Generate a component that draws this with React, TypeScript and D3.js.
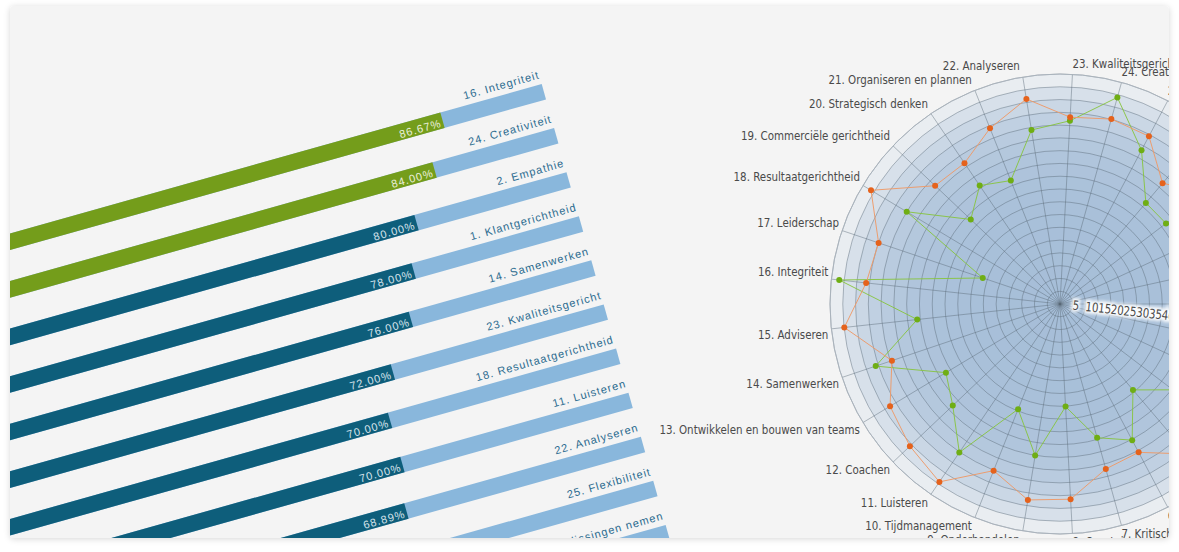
import React from 'react';
import * as d3 from 'd3';

// ---------- Bar chart data ----------
const barLabels = [
  '16. Integriteit',
  '24. Creativiteit',
  '2. Empathie',
  '1. Klantgerichtheid',
  '14. Samenwerken',
  '23. Kwaliteitsgericht',
  '18. Resultaatgerichtheid',
  '11. Luisteren',
  '22. Analyseren',
  '25. Flexibiliteit',
  '3. Beslissingen nemen',
];
const barValues = [86.67, 84.0, 80.0, 78.0, 76.0, 72.0, 70.0, 70.0, 68.89, 66.67, 64.44];
const barHighlightFrom = 82; // values at or above are shown green

// ---------- Radar data ----------
const axisNames = [
  '1. Klantgerichtheid',
  '2. Empathie',
  '3. Beslissingen nemen',
  '4. Overtuigingskracht',
  '5. Stressbestendigheid',
  '6. Initiatief',
  '7. Kritisch denken',
  '8. Overtuigen',
  '9. Onderhandelen',
  '10. Tijdmanagement',
  '11. Luisteren',
  '12. Coachen',
  '13. Ontwikkelen en bouwen van teams',
  '14. Samenwerken',
  '15. Adviseren',
  '16. Integriteit',
  '17. Leiderschap',
  '18. Resultaatgerichtheid',
  '19. Commerciële gerichtheid',
  '20. Strategisch denken',
  '21. Organiseren en plannen',
  '22. Analyseren',
  '23. Kwaliteitsgericht',
  '24. Creativiteit',
  '25. Flexibiliteit',
  '26. Zelfstandigheid',
  '27. Discipline',
  '28. Inlevingsvermogen',
  '29. Ondernemerschap',
];
const seriesOrange = [
  74, 78, 71, 75, 77, 65.7, 67, 76.5, 77.7, 70.2, 84.1, 80.9, 77.6, 69.4, 84.9,
  76.3, 74.9, 86.3, 67.3, 66.6, 74, 81.3, 73.2, 75.1, 74.3, 62, 72, 70, 76,
];
const seriesGreen = [
  62, 55, 65, 55.5, 44.1, 60.3, 54.3, 40.2, 60.1, 44.3, 70.2, 57.8, 52.1, 76.1, 56.2,
  86.9, 31.9, 70, 48.1, 56, 52, 69, 71.8, 83.9, 68.1, 51.9, 52.1, 60, 58,
];
const radarTicks = [5, 10, 15, 20, 25, 30, 35, 40, 45, 50, 55, 60, 65, 70, 75, 80, 85, 90];

export default function App() {
  const W = 1179;
  const H = 552;
  const card = { x: 10, y: 6, w: 1159, h: 532 };

  // bar chart (rotated horizontal bars)
  const barAngle = -15.7;
  const barOrigin = [541.7, 84];
  const barFull = 790;
  const barStep = 45.8;
  const barThick = 16;
  const xBar = d3.scaleLinear().domain([0, 100]).range([-barFull, 0]);
  const yBar = d3.scaleLinear().domain([0, 1]).range([0, barStep]);

  // radar
  const cx = 1060;
  const cy = 304;
  const R = 230;
  const n = axisNames.length;
  const rScale = d3.scaleLinear().domain([0, 90]).range([0, R]);
  const ang = (i: number) => (i * 2 * Math.PI) / n;
  const bandColor = d3.interpolateRgb('#e9edf1', '#a6bed8');
  const radial = d3
    .lineRadial<number>()
    .angle((_d, i) => ang(i) + Math.PI / 2)
    .radius((d) => rScale(d))
    .curve(d3.curveLinearClosed);
  const halfStepDeg = 180 / n;
  const labelFont = '"DejaVu Sans Condensed", "DejaVu Sans", sans-serif';
  const barFont = '"Liberation Sans", Arial, sans-serif';
  const squeeze = 0.88;

  const ringsDesc = [...radarTicks].reverse();

  return (
    <svg
      width={W}
      height={H}
      viewBox={`0 0 ${W} ${H}`}
      style={{ position: 'absolute', left: 0, top: 0 }}
    >
      <defs>
        <filter id="cardShadow" x="-5%" y="-5%" width="110%" height="110%">
          <feDropShadow dx="0" dy="1" stdDeviation="3" floodColor="#000" floodOpacity="0.16" />
        </filter>
        <clipPath id="cardClip">
          <rect x={card.x} y={card.y} width={card.w} height={card.h} rx={4} />
        </clipPath>
        <filter id="glow" x="-20%" y="-50%" width="140%" height="200%">
          <feGaussianBlur stdDeviation="1.6" />
        </filter>
      </defs>
      <rect x={0} y={0} width={W} height={H} fill="#ffffff" />
      <rect
        x={card.x}
        y={card.y}
        width={card.w}
        height={card.h}
        rx={4}
        fill="#f4f4f4"
        filter="url(#cardShadow)"
      />
      <g clipPath="url(#cardClip)">
        {/* ---------------- Bar chart ---------------- */}
        <g transform={`translate(${barOrigin[0]},${barOrigin[1]}) rotate(${barAngle})`}>
          {barLabels.map((lab, i) => {
            const v = barValues[i];
            const y0 = yBar(i);
            const hi = v >= barHighlightFrom;
            return (
              <g key={lab}>
                <rect
                  x={xBar(0)}
                  y={y0}
                  width={xBar(100) - xBar(0)}
                  height={barThick}
                  fill="#89b7dc"
                />
                <rect
                  x={xBar(0)}
                  y={y0}
                  width={xBar(v) - xBar(0)}
                  height={barThick}
                  fill={hi ? '#749d1b' : '#0e5e7b'}
                />
                <text
                  x={xBar(100)}
                  y={y0 - 6}
                  textAnchor="end"
                  fontFamily={barFont}
                  fontSize={11}
                  letterSpacing={1}
                  fill="#2b6b8f"
                >
                  {lab}
                </text>
                <text
                  x={xBar(v) - 2}
                  y={y0 + 14}
                  textAnchor="end"
                  fontFamily={barFont}
                  fontSize={11}
                  letterSpacing={1}
                  fill={hi ? '#eaf0dc' : '#d6e3eb'}
                >
                  {v.toFixed(2)}%
                </text>
              </g>
            );
          })}
        </g>

        {/* ---------------- Radar chart ---------------- */}
        <g>
          {ringsDesc.map((t, k) => (
            <circle
              key={'band' + t}
              cx={cx}
              cy={cy}
              r={rScale(t)}
              fill={bandColor(1 - Math.exp(-k / 3.2))}
              stroke="#5c6a78"
              strokeOpacity={k === 0 ? 0.35 : 0.45}
              strokeWidth={1}
            />
          ))}
          {axisNames.map((name, i) => (
            <line
              key={'spoke' + name}
              x1={cx}
              y1={cy}
              x2={cx + R * Math.cos(ang(i))}
              y2={cy + R * Math.sin(ang(i))}
              stroke="#5c6a78"
              strokeOpacity={0.45}
              strokeWidth={1}
            />
          ))}
          <circle cx={cx} cy={cy} r={R} fill="none" stroke="#aab3bc" strokeWidth={1} />

          {/* scale labels */}
          <g transform={`translate(${cx},${cy}) rotate(${halfStepDeg})`}>
            <g filter="url(#glow)">
              {radarTicks.map((t) => (
                <text
                  key={'halo' + t}
                  transform={`translate(${rScale(t)},0) scale(${squeeze},1)`}
                  dominantBaseline="central"
                  fontFamily={labelFont}
                  fontSize={13}
                  fill="#ffffff"
                  stroke="#ffffff"
                  strokeWidth={5}
                  strokeOpacity={0.9}
                >
                  {t}
                </text>
              ))}
            </g>
            {radarTicks.map((t) => (
              <text
                key={'tick' + t}
                transform={`translate(${rScale(t)},0) scale(${squeeze},1)`}
                dominantBaseline="central"
                fontFamily={labelFont}
                fontSize={13}
                fill="#4a4a4a"
              >
                {t}
              </text>
            ))}
          </g>

          {/* series */}
          <g transform={`translate(${cx},${cy})`}>
            <path d={radial(seriesGreen) || ''} fill="none" stroke="#86c43c" strokeWidth={1} strokeOpacity={0.9} />
            {seriesGreen.map((v, i) => (
              <circle
                key={'g' + i}
                cx={rScale(v) * Math.cos(ang(i))}
                cy={rScale(v) * Math.sin(ang(i))}
                r={3}
                fill="#6fae14"
              />
            ))}
            <path d={radial(seriesOrange) || ''} fill="none" stroke="#ee9a68" strokeWidth={1} strokeOpacity={0.95} />
            {seriesOrange.map((v, i) => (
              <circle
                key={'o' + i}
                cx={rScale(v) * Math.cos(ang(i))}
                cy={rScale(v) * Math.sin(ang(i))}
                r={3}
                fill="#e5621c"
              />
            ))}
          </g>

          {/* axis labels */}
          {axisNames.map((name, i) => {
            const a = ang(i);
            const c = Math.cos(a);
            const s = Math.sin(a);
            const ex = cx + R * c;
            const ey = cy + R * s;
            const left = c < -0.01;
            const ly = s < 0 ? ey - (7 + 4 * Math.abs(s)) : ey + (6 + 2.5 * s);
            return (
              <text
                key={'lab' + name}
                transform={`translate(${left ? ex - 3 : ex},${ly}) scale(${squeeze},1)`}
                textAnchor={left ? 'end' : 'start'}
                dominantBaseline="central"
                fontFamily={labelFont}
                fontSize={13}
                fill="#4a4a4a"
              >
                {name}
              </text>
            );
          })}
        </g>
      </g>
    </svg>
  );
}
